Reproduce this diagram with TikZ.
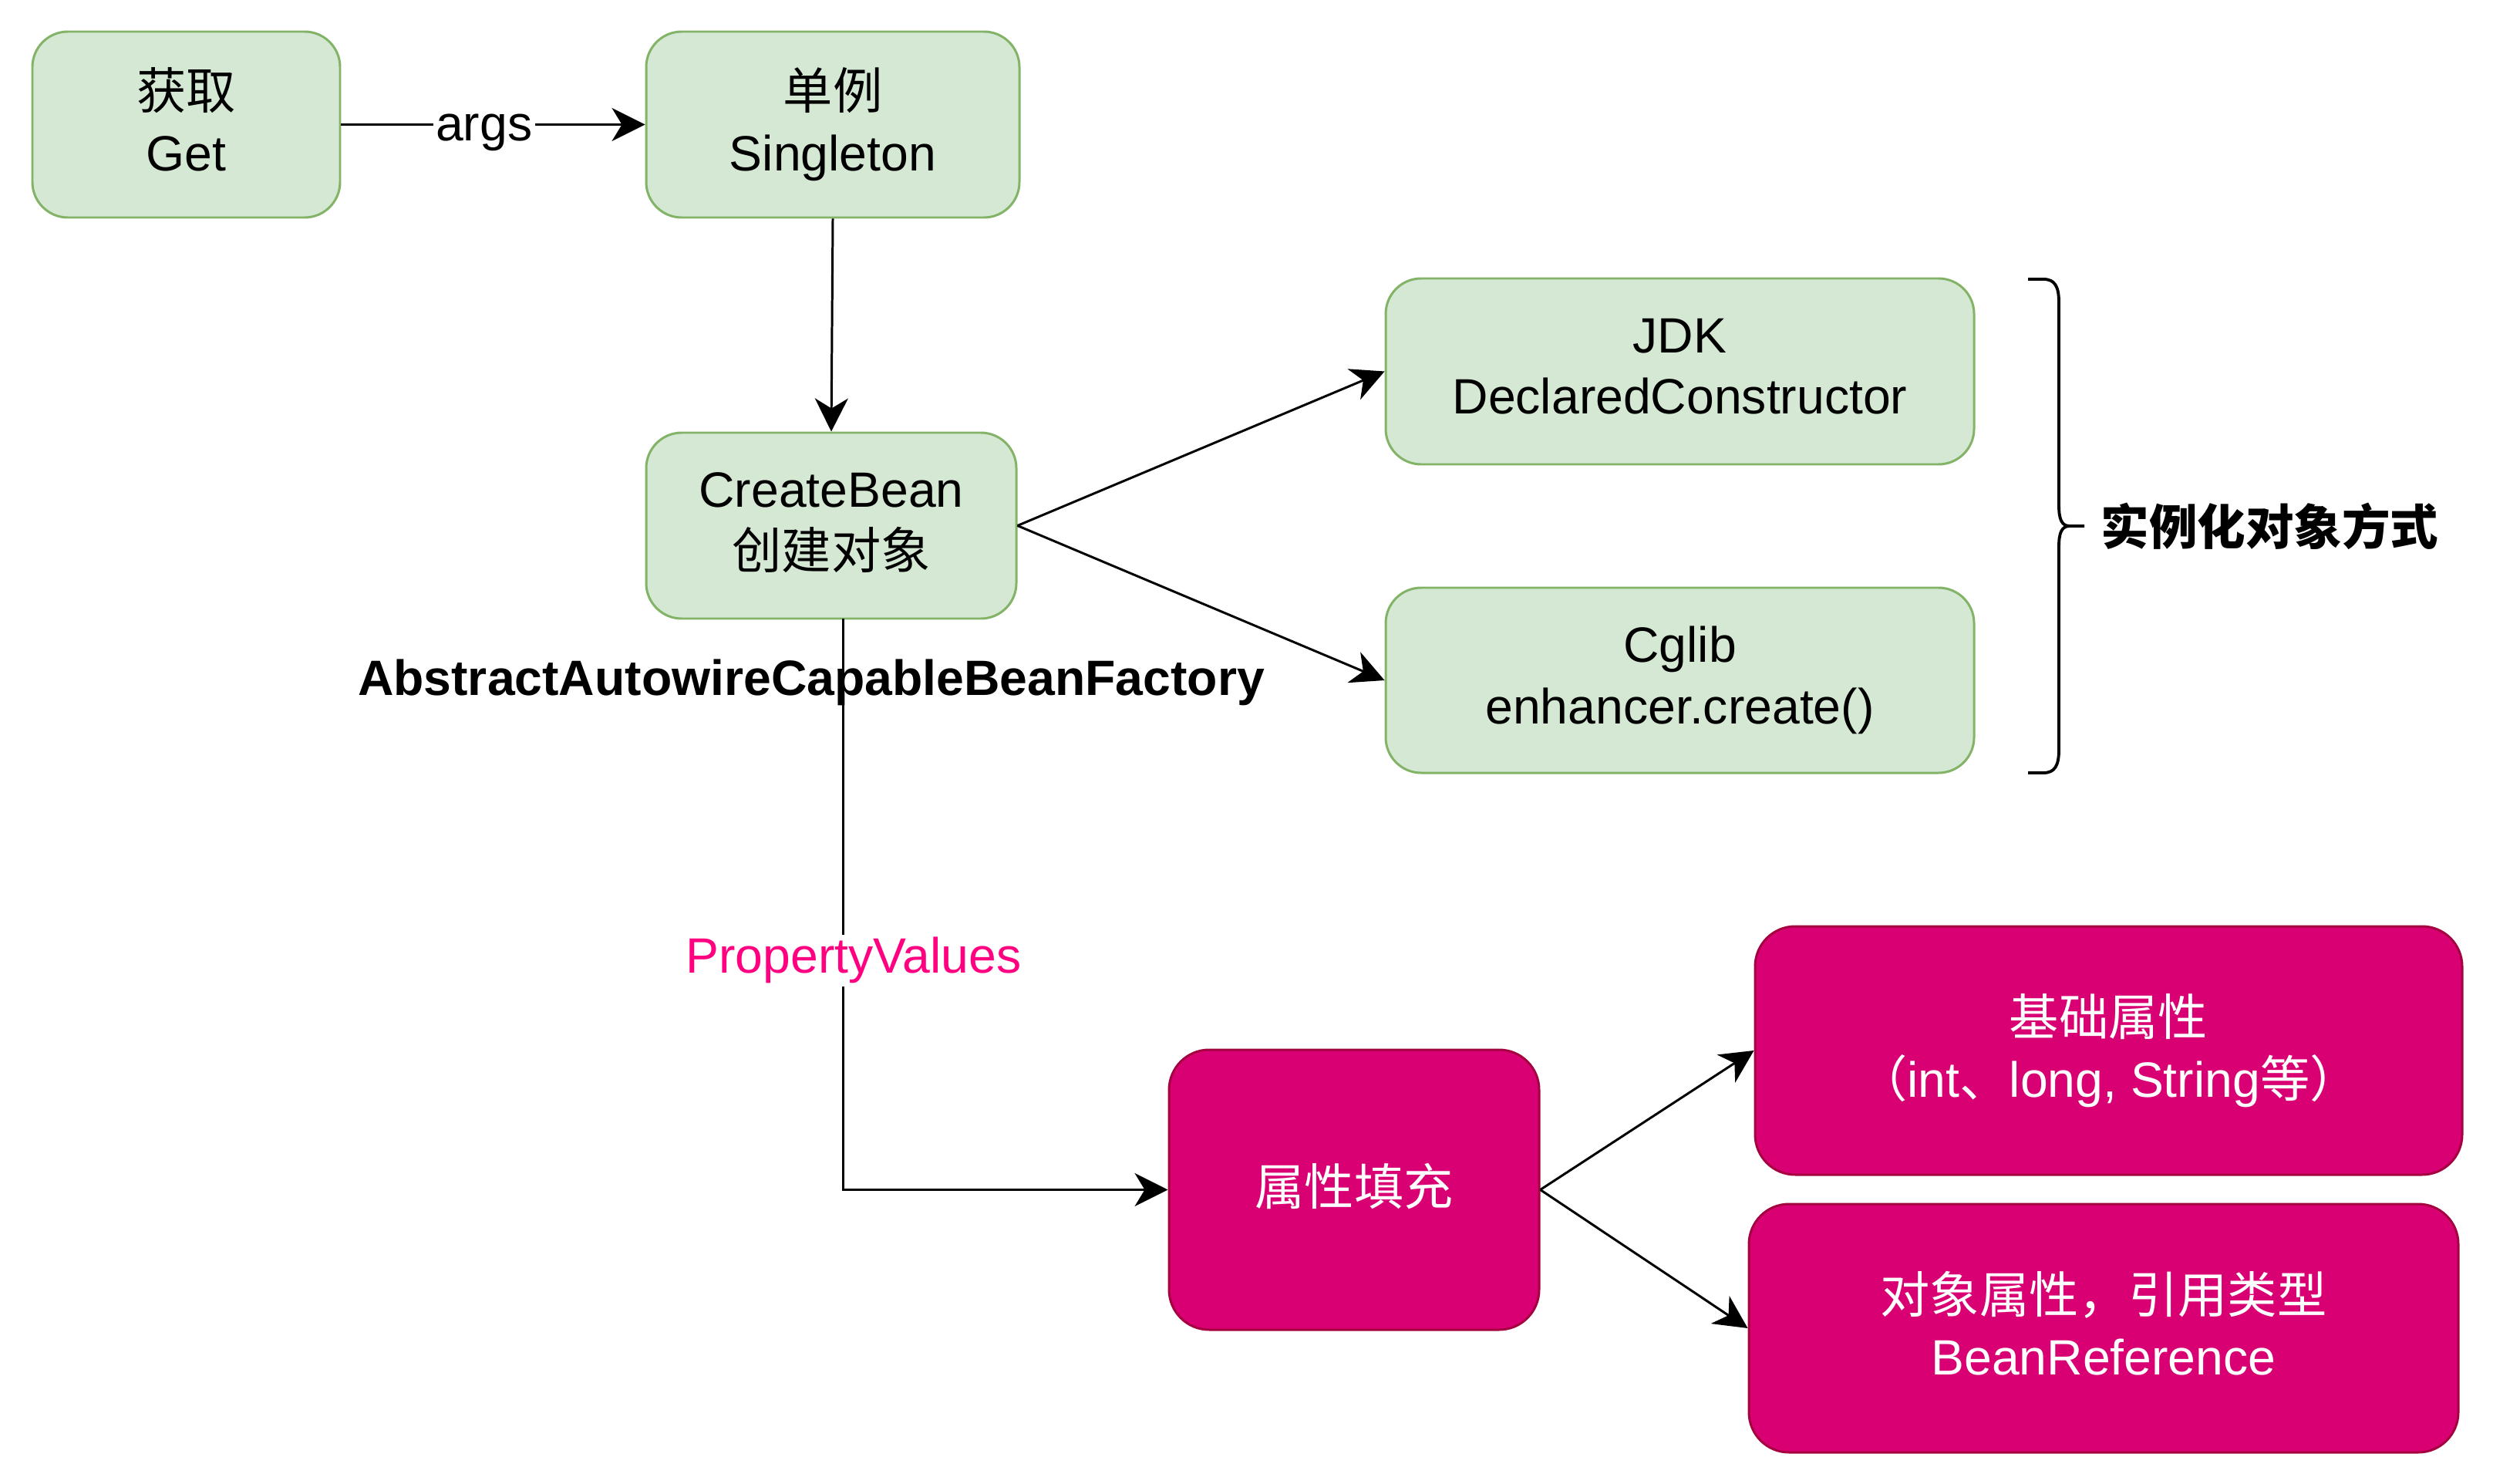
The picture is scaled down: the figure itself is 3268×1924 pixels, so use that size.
\documentclass[tikz,border=0pt]{standalone}
\usepackage{fontspec}
\setmainfont{Liberation Sans}
\newfontfamily\cjk{Noto Sans CJK SC}
\usetikzlibrary{arrows.meta}
\definecolor{gfill}{HTML}{D5E8D4}
\definecolor{gline}{HTML}{82B366}
\definecolor{pfill}{HTML}{D80073}
\definecolor{pline}{HTML}{A50040}
\definecolor{pvtext}{HTML}{FF0080}
\begin{document}
\begin{tikzpicture}[x=0.1mm,y=-0.1mm,
  font=\fontsize{18.3}{22.7}\selectfont,
  gbox/.style={draw=gline, fill=gfill, line width=0.85pt, rounded corners=4.6mm, align=center, inner sep=0pt, execute at end node=\vphantom{g}},
  pbox/.style={draw=pline, fill=pfill, line width=0.85pt, rounded corners=5.2mm, align=center, text=white, inner sep=0pt, execute at end node=\vphantom{g}},
  conn/.style={line width=0.85pt, -{Stealth[length=4.3mm,width=4.3mm,inset=1.3mm]}},
  lbl/.style={fill=white, inner sep=1pt},
]
\fill[white] (0,0) rectangle (3268,1924);
\useasboundingbox (0,0) rectangle (3268,1924);

% green nodes
\node[gbox, minimum width=39.9mm, minimum height=24.1mm] (get) at (241.5,161.5) {{\cjk 获取}\\Get};
\node[gbox, minimum width=48.4mm, minimum height=24.1mm] (single) at (1080,161.5) {{\cjk 单例}\\Singleton};
\node[gbox, minimum width=48.0mm, minimum height=24.1mm] (create) at (1078,681.5) {CreateBean\\{\cjk 创建对象}};
\node[gbox, minimum width=76.3mm, minimum height=24.1mm] (jdk) at (2178.5,481.5) {JDK\\DeclaredConstructor};
\node[gbox, minimum width=76.3mm, minimum height=24.0mm] (cglib) at (2178.5,882) {Cglib\\enhancer.create()};

% pink nodes
\node[pbox, minimum width=48.0mm, minimum height=36.3mm] (fill) at (1756,1542.5) {\cjk 属性填充};
\node[pbox, minimum width=91.7mm, minimum height=32.2mm] (basic) at (2734.5,1362) {{\cjk 基础属性}\\{\cjk （}int{\cjk 、}long, String{\cjk 等）}};
\node[pbox, minimum width=92.0mm, minimum height=32.2mm] (objp) at (2728,1722) {{\cjk 对象属性，引用类型}\\BeanReference};

% labels
\node[anchor=base, font=\fontsize{18.3}{22.7}\selectfont\bfseries] (factory) at (1052,901) {AbstractAutowireCapableBeanFactory};
\node[anchor=west, font=\fontsize{17.8}{22.7}\selectfont\cjk\bfseries] (way) at (2712,682) {实例化对象方式};

% connectors
\draw[conn] (get) -- node[lbl, pos=0.47, yshift=-1mm] (args) {args} (single);
\draw[conn] (single.south) -- (create.north);
\draw[conn] (create.east) -- (jdk.west);
\draw[conn] (create.east) -- (cglib.west);
\coordinate (cb) at (1093,802);
\draw[conn] (cb) |- (fill.west);
\node[lbl, text=pvtext] (pv) at (1107,1245) {PropertyValues};
\draw[conn] (fill.east) -- (basic.west);
\draw[conn] (fill.east) -- (objp.west);

% brace
\draw[line width=1.1pt] (2630,362) -- (2650,362) .. controls (2665,362) and (2670,372) .. (2670,392)
  -- (2670,655) .. controls (2670,672) and (2673,682) .. (2684,682) -- (2703,682);
\draw[line width=1.1pt] (2684,682) .. controls (2673,682) and (2670,692) .. (2670,709)
  -- (2670,972) .. controls (2670,992) and (2665,1002) .. (2650,1002) -- (2630,1002);
\end{tikzpicture}
\end{document}
